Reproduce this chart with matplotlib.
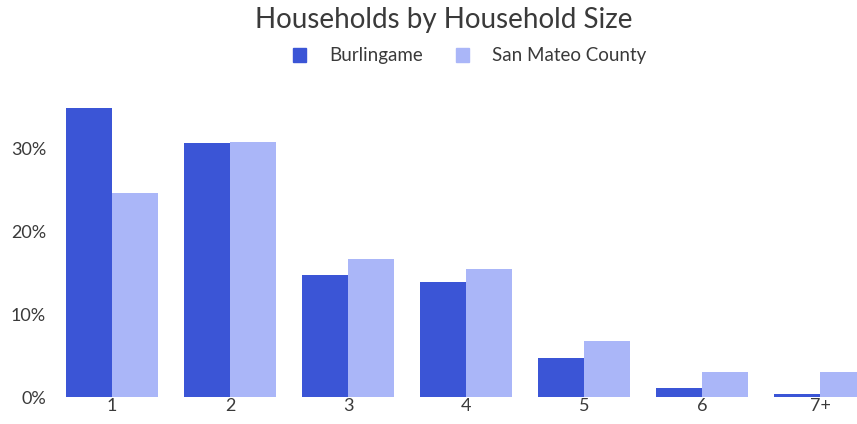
import numpy as np
import matplotlib.pyplot as plt
from matplotlib.patches import Patch

sizes = ["1", "2", "3", "4", "5", "6", "7+"]
burlingame = [34.8, 30.6, 14.7, 13.9, 4.7, 1.1, 0.4]
san_mateo = [24.6, 30.7, 16.6, 15.4, 6.7, 3.0, 3.0]
yticks = [0, 10, 20, 30]

c_burl = "#3b55d6"
c_smc = "#aab6f8"
txt = "#3a3a3a"

plt.rcParams["font.family"] = ["Lato", "DejaVu Sans"]

fig = plt.figure(figsize=(8.57, 4.24), dpi=100)
ax = fig.add_axes([60 / 857, 27 / 424, 797 / 857, 307 / 424])

x = np.arange(len(sizes))
w = 0.39
ax.bar(x - w, burlingame, width=w, align="edge", color=c_burl)
ax.bar(x, san_mateo, width=w, align="edge", color=c_smc)

ax.set_xlim(-0.44, 6.31)
ax.set_ylim(0, 37)
ax.set_xticks(x)
ax.set_xticklabels(sizes)
ax.set_yticks(yticks)
ax.set_yticklabels([f"{v}%" for v in yticks])
ax.tick_params(length=0, labelsize=13, colors=txt)
ax.tick_params(axis="y", pad=10)
ax.tick_params(axis="x", pad=1)
for s in ax.spines.values():
    s.set_visible(False)

fig.text(0.518, 0.952, "Households by Household Size", ha="center", va="center",
         fontsize=20, color=txt)
handles = [Patch(color=c_burl, label="Burlingame"), Patch(color=c_smc, label="San Mateo County")]
fig.legend(handles=handles, loc="center", bbox_to_anchor=(0.548, 0.868), ncol=2,
           frameon=False, fontsize=13.5, handlelength=0.7, handleheight=0.8,
           handletextpad=1.2, columnspacing=1.8, labelcolor=txt)

fig.savefig("out.png", dpi=100, facecolor="white")
